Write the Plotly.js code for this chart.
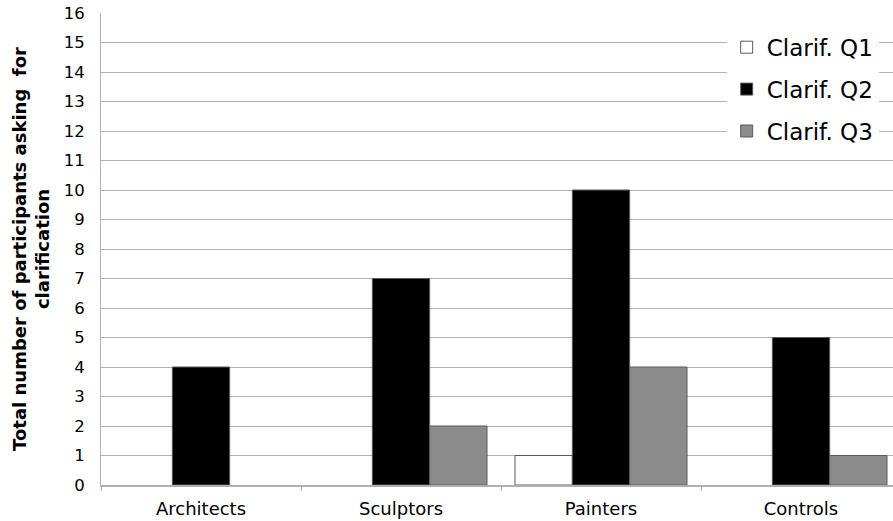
<!DOCTYPE html>
<html>
<head>
<meta charset="utf-8">
<script src="https://cdn.plot.ly/plotly-3.0.1.min.js"></script>
<style>
  html, body { margin: 0; padding: 0; background: #ffffff; }
  #chart { width: 893px; height: 521px; }
</style>
</head>
<body>
<div id="chart"></div>
<script>
const categories = ["Architects", "Sculptors", "Painters", "Controls"];
const seriesNames = ["Clarif. Q1", "Clarif. Q2", "Clarif. Q3"];
const q1Values = [0, 0, 1, 0];
const q2Values = [4, 7, 10, 5];
const q3Values = [0, 2, 4, 1];
const yTickValues = [0, 1, 2, 3, 4, 5, 6, 7, 8, 9, 10, 11, 12, 13, 14, 15, 16];
const yTitle = "Total number of participants asking  for<br>clarification";

const fills = ["#ffffff", "#000000", "#8c8c8c"];
const allValues = [q1Values, q2Values, q3Values];

// zero-height bars are not drawn in the reference (no flat outline)
const traces = allValues.map((vals, i) => ({
  type: "bar",
  name: seriesNames[i],
  x: categories,
  y: vals.map(v => (v === 0 ? null : v)),
  customdata: vals,
  legendgroup: "g" + i,
  marker: {
    color: fills[i],
    line: { color: "#5a5a5a", width: 1 }
  },
  hovertemplate: "%{x}: %{customdata}<extra>" + seriesNames[i] + "</extra>"
}));

const layout = {
  width: 893,
  height: 521,
  margin: { l: 101, r: 0, t: 13, b: 36, pad: 0 },
  paper_bgcolor: "#ffffff",
  plot_bgcolor: "#ffffff",
  font: { family: "DejaVu Sans, Arial, sans-serif", color: "#000000", size: 18 },
  barmode: "group",
  bargap: 0.14,
  bargroupgap: 0,
  showlegend: true,
  legend: {
    x: 0.79, xanchor: "left",
    y: 0.973, yanchor: "top",
    bgcolor: "#ffffff",
    borderwidth: 0,
    font: { family: "DejaVu Sans, Arial, sans-serif", size: 23, color: "#000000" },
    traceorder: "grouped",
    tracegroupgap: 9,
    itemwidth: 30
  },
  xaxis: {
    type: "category",
    range: [-0.5, 3.46],
    showgrid: false,
    showline: true,
    linecolor: "#b0b0b0",
    linewidth: 1.5,
    ticks: "outside",
    tickson: "boundaries",
    ticklen: 4,
    tickcolor: "#b0b0b0",
    tickwidth: 1,
    tickfont: { size: 18 },
    ticklabelstandoff: 7,
    fixedrange: true
  },
  yaxis: {
    range: [0, 16],
    tickvals: yTickValues,
    ticktext: yTickValues.map(String),
    showgrid: true,
    gridcolor: "#b3b3b3",
    gridwidth: 1,
    zeroline: false,
    showline: true,
    linecolor: "#b3b3b3",
    linewidth: 1,
    ticks: "",
    tickfont: { size: 16.5 },
    ticklabelstandoff: 12,
    title: {
      text: yTitle,
      font: { family: "DejaVu Sans, Arial, sans-serif", size: 18, color: "#000000", weight: "bold" },
      standoff: 9
    },
    automargin: false,
    fixedrange: true
  }
};

Plotly.newPlot("chart", traces, layout, { displayModeBar: false, staticPlot: true });
</script>
</body>
</html>
